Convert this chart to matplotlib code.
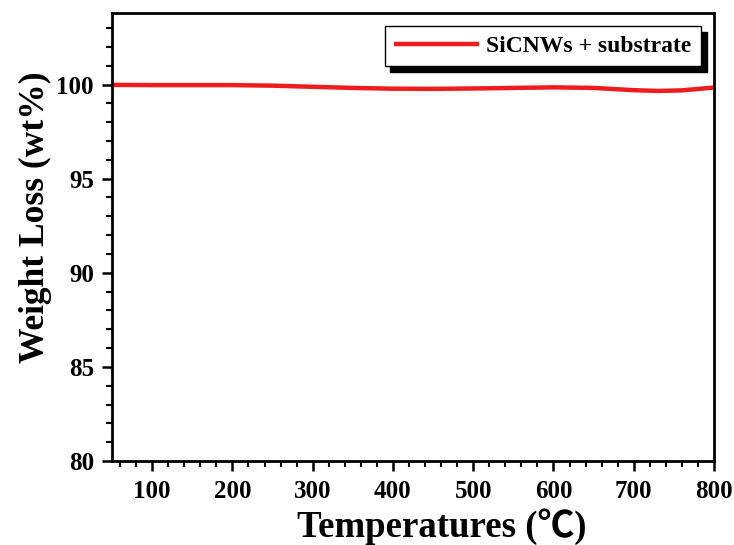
import matplotlib
matplotlib.use("Agg")
import matplotlib.pyplot as plt
import numpy as np

temperature = [50, 100, 150, 200, 250, 300, 350, 400, 450, 500, 550, 600, 650, 700, 730, 760, 800]
weight = [99.98, 99.97, 99.97, 99.97, 99.94, 99.88, 99.82, 99.78, 99.77, 99.79, 99.82, 99.85, 99.82, 99.7, 99.66, 99.69, 99.84]
series_label = "SiCNWs + substrate"
xticks = [100, 200, 300, 400, 500, 600, 700, 800]
yticks = [80, 85, 90, 95, 100]

plt.rcParams['font.family'] = ['Liberation Serif', 'DejaVu Serif']
plt.rcParams['font.weight'] = 'bold'

fig = plt.figure(figsize=(7.34, 5.45), dpi=100)
ax = fig.add_axes([112/734, 1 - 461/545, (714-112)/734, (461-13)/545])

ax.plot(temperature, weight, color='#ee1c1c', lw=3.2, label=series_label, solid_capstyle='butt')

ax.set_xlim(50, 800)
ax.set_ylim(80, 103.8)
ax.set_xticks(xticks)
ax.set_yticks(yticks)
ax.set_xticks(np.arange(60, 800, 20), minor=True)
ax.set_yticks(np.arange(80, 104, 1), minor=True)
ax.tick_params(which='major', direction='out', length=7, width=1.8, labelsize=18)
ax.tick_params(axis='x', which='major', pad=7)
ax.tick_params(axis='y', which='major', pad=6)
ax.tick_params(which='minor', direction='out', length=4, width=1.5)
ax.tick_params(top=False, right=False, which='both')
for s in ax.spines.values():
    s.set_linewidth(2)

ax.set_xlabel('Temperatures (\u2103)', fontsize=26.5, fontweight='bold',
              family=['Liberation Serif', 'Noto Sans CJK SC', 'DejaVu Sans'])
ax.xaxis.set_label_coords(0.547, -0.105)
ax.set_ylabel('Weight Loss (wt%)', fontsize=25.5, fontweight='bold')
ax.yaxis.set_label_coords(-0.10, 0.545)

leg = ax.legend(loc='upper right', fontsize=17, frameon=True, fancybox=False,
                shadow={'facecolor': 'black', 'edgecolor': 'black', 'alpha': 1, 'ox': 4, 'oy': -4},
                handlelength=3.6, handletextpad=0.3, borderpad=0.4, borderaxespad=0.55)
leg.get_frame().set_edgecolor('black')
leg.get_frame().set_linewidth(1.0)
leg.get_frame().set_alpha(1)

fig.savefig('out.png', dpi=100)
